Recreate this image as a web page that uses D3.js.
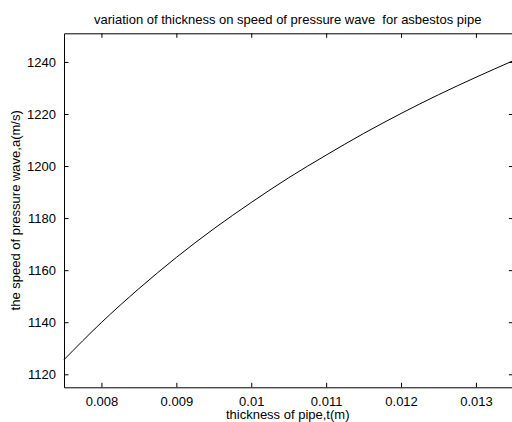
<!DOCTYPE html>
<html>
<head>
<meta charset="utf-8">
<script src="https://d3js.org/d3.v7.min.js"></script>
<style>
  html, body { margin: 0; padding: 0; background: #fff; }
  svg { display: block; }
  text { font-family: "Liberation Sans", Arial, sans-serif; fill: #000; }
</style>
</head>
<body>
<script>
// Data
const thickness = [0.0075, 0.008, 0.0085, 0.009, 0.0095, 0.010, 0.0105, 0.011, 0.0115, 0.012, 0.0125, 0.013, 0.0135];
const waveSpeed = [1125.6, 1139.9, 1152.9, 1164.9, 1175.9, 1186.0, 1195.5, 1204.2, 1212.5, 1220.2, 1227.4, 1234.1, 1240.5];
const xTicks = [0.008, 0.009, 0.010, 0.011, 0.012, 0.013];
const xTickLabels = ["0.008", "0.009", "0.01", "0.011", "0.012", "0.013"];
const yTicks = [1120, 1140, 1160, 1180, 1200, 1220, 1240];
const titleText = "variation of thickness on speed of pressure wave  for asbestos pipe";
const xLabelText = "thickness of pipe,t(m)";
const yLabelText = "the speed of pressure wave,a(m/s)";

const W = 512, H = 422;
const mLeft = 64, mRight = 513.4, mTop = 33.3, mBottom = 387.3;
const FS = 13;

const svg = d3.select("body").append("svg").attr("width", W).attr("height", H);

const x = d3.scaleLinear().domain([0.0075, 0.0135]).range([mLeft, mRight]);
const y = d3.scaleLinear().domain([1115, 1251]).range([mBottom, mTop]);

const tickLen = 4.5;

const xAxisB = d3.axisBottom(x).tickValues(xTicks)
  .tickFormat((d, i) => xTickLabels[i]).tickSizeInner(-tickLen).tickSizeOuter(0).tickPadding(9);
const gxb = svg.append("g").attr("transform", `translate(0,${mBottom})`).call(xAxisB);
const xAxisT = d3.axisTop(x).tickValues(xTicks).tickFormat("").tickSizeInner(-tickLen).tickSizeOuter(0);
const gxt = svg.append("g").attr("transform", `translate(0,${mTop})`).call(xAxisT);
const yAxisL = d3.axisLeft(y).tickValues(yTicks).tickFormat(d3.format("d"))
  .tickSizeInner(-tickLen).tickSizeOuter(0).tickPadding(8);
const gyl = svg.append("g").attr("transform", `translate(${mLeft},0)`).call(yAxisL);
const yAxisR = d3.axisRight(y).tickValues(yTicks).tickFormat("").tickSizeInner(-tickLen).tickSizeOuter(0);
const gyr = svg.append("g").attr("transform", `translate(${mRight},0)`).call(yAxisR);

[gxb, gxt, gyl, gyr].forEach(g => {
  g.selectAll("path.domain").attr("stroke", "#000").attr("stroke-width", 1);
  g.selectAll(".tick line").attr("stroke", "#000").attr("stroke-width", 1);
  g.selectAll(".tick text").attr("font-family", "Liberation Sans, Arial, sans-serif")
    .attr("font-size", FS).attr("fill", "#000");
});

const line = d3.line()
  .x((d, i) => x(thickness[i]))
  .y(d => y(d))
  .curve(d3.curveMonotoneX);
svg.append("path").datum(waveSpeed)
  .attr("d", line).attr("fill", "none").attr("stroke", "#000").attr("stroke-width", 1);

svg.append("text").attr("x", (mLeft + mRight) / 2 - 1).attr("y", 24)
  .attr("xml:space", "preserve").style("white-space", "pre")
  .attr("text-anchor", "middle").attr("font-size", FS).text(titleText);
svg.append("text").attr("x", (mLeft + mRight) / 2 - 1).attr("y", 419)
  .attr("text-anchor", "middle").attr("font-size", FS).text(xLabelText);
svg.append("text").attr("transform", `translate(20,${(mTop + mBottom) / 2}) rotate(-90)`)
  .attr("text-anchor", "middle").attr("font-size", FS).text(yLabelText);
</script>
</body>
</html>
